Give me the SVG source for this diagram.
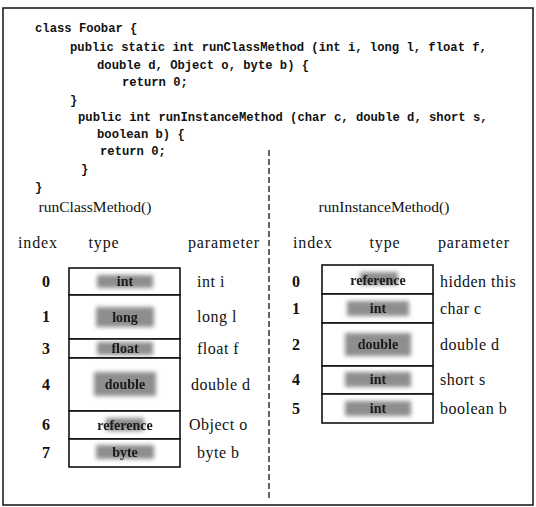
<svg xmlns="http://www.w3.org/2000/svg" width="536" height="507" viewBox="0 0 536 507">
<defs>
<filter id="blur" x="-30%" y="-50%" width="160%" height="200%"><feGaussianBlur stdDeviation="2.2"/></filter>
<filter id="soft" x="-10%" y="-30%" width="120%" height="160%"><feGaussianBlur stdDeviation="0.6"/></filter>
</defs>
<style>
.code{font-family:"Liberation Mono","Courier New",monospace;font-weight:bold;font-size:12.2px;fill:#111}
.ttl{font-family:"Liberation Serif","Times New Roman",serif;font-size:15.5px;fill:#111;text-anchor:middle}
.hdr{font-family:"Liberation Serif","Times New Roman",serif;font-size:16px;letter-spacing:0.9px;fill:#111;text-anchor:middle}
.lbl{font-family:"Liberation Serif","Times New Roman",serif;font-size:16px;letter-spacing:0.5px;fill:#111}
.num{font-family:"Liberation Serif","Times New Roman",serif;font-size:16px;font-weight:bold;fill:#111;text-anchor:middle}
.cell{fill:#fff;stroke:#111;stroke-width:1.6}
.blob{fill:#8e8e8e;filter:url(#blur)}
.typ{font-family:"Liberation Serif","Times New Roman",serif;font-size:14px;font-weight:bold;fill:#1a1a1a;text-anchor:middle;filter:url(#soft)}
.frame{fill:none;stroke:#111;stroke-width:1.5}
.div{stroke:#111;stroke-width:1.3;stroke-dasharray:6 3;fill:none}
</style>
<rect class="frame" x="3" y="8" width="530" height="497"/>
<g id="code">
<text class="code" x="35" y="32">class Foobar {</text>
<text class="code" x="70" y="51">public static int runClassMethod (int i, long l, float f,</text>
<text class="code" x="97" y="69">double d, Object o, byte b) {</text>
<text class="code" x="122" y="86">return 0;</text>
<text class="code" x="70" y="104">}</text>
<text class="code" x="78" y="121">public int runInstanceMethod (char c, double d, short s,</text>
<text class="code" x="97" y="138">boolean b) {</text>
<text class="code" x="100" y="155">return 0;</text>
<text class="code" x="81" y="173">}</text>
<text class="code" x="35" y="191">}</text>
</g>
<g id="connectors">
<line class="div" x1="269" y1="150" x2="269" y2="500"/>
</g>
<g id="left-header">
<text class="ttl" x="95" y="212">runClassMethod()</text>
<text class="hdr" x="38" y="248">index</text>
<text class="hdr" x="104" y="248">type</text>
<text class="hdr" x="224" y="248">parameter</text>
</g>
<g id="left-row-0">
<rect class="cell" x="69" y="268" width="111" height="27"/>
<rect class="blob" x="97" y="275" width="56" height="13"/>
<text class="typ" x="125" y="286">int</text>
<text class="num" x="46" y="287">0</text>
<text class="lbl" x="197" y="287">int i</text>
</g>
<g id="left-row-1">
<rect class="cell" x="69" y="295" width="111" height="44"/>
<rect class="blob" x="96" y="307" width="58" height="20"/>
<text class="typ" x="125" y="322">long</text>
<text class="num" x="46" y="322">1</text>
<text class="lbl" x="197" y="322">long l</text>
</g>
<g id="left-row-3">
<rect class="cell" x="69" y="339" width="111" height="19"/>
<rect class="blob" x="97" y="342" width="56" height="13"/>
<text class="typ" x="125" y="353">float</text>
<text class="num" x="46" y="354">3</text>
<text class="lbl" x="197" y="354">float f</text>
</g>
<g id="left-row-4">
<rect class="cell" x="69" y="358" width="111" height="53"/>
<rect class="blob" x="94" y="372" width="62" height="24"/>
<text class="typ" x="125" y="389">double</text>
<text class="num" x="46" y="390">4</text>
<text class="lbl" x="191" y="390">double d</text>
</g>
<g id="left-row-6">
<rect class="cell" x="69" y="411" width="111" height="28"/>
<rect class="blob" x="106" y="418" width="38" height="13"/>
<text class="typ" x="125" y="430">reference</text>
<text class="num" x="46" y="430">6</text>
<text class="lbl" x="189" y="430">Object o</text>
</g>
<g id="left-row-7">
<rect class="cell" x="69" y="439" width="111" height="28"/>
<rect class="blob" x="96" y="445" width="58" height="14"/>
<text class="typ" x="125" y="457">byte</text>
<text class="num" x="46" y="458">7</text>
<text class="lbl" x="197" y="458">byte b</text>
</g>
<g id="right-header">
<text class="ttl" x="384" y="212">runInstanceMethod()</text>
<text class="hdr" x="313" y="248">index</text>
<text class="hdr" x="385" y="248">type</text>
<text class="hdr" x="474" y="248">parameter</text>
</g>
<g id="right-row-0">
<rect class="cell" x="322" y="265" width="111" height="29"/>
<rect class="blob" x="360" y="272" width="38" height="13"/>
<text class="typ" x="378" y="285">reference</text>
<text class="num" x="296" y="287">0</text>
<text class="lbl" x="440" y="287">hidden this</text>
</g>
<g id="right-row-1">
<rect class="cell" x="322" y="294" width="111" height="29"/>
<rect class="blob" x="347" y="301" width="62" height="15"/>
<text class="typ" x="378" y="313">int</text>
<text class="num" x="296" y="314">1</text>
<text class="lbl" x="440" y="314">char c</text>
</g>
<g id="right-row-2">
<rect class="cell" x="322" y="323" width="111" height="43"/>
<rect class="blob" x="345" y="333" width="66" height="23"/>
<text class="typ" x="378" y="349">double</text>
<text class="num" x="296" y="350">2</text>
<text class="lbl" x="440" y="350">double d</text>
</g>
<g id="right-row-4">
<rect class="cell" x="322" y="366" width="111" height="28"/>
<rect class="blob" x="345" y="372" width="66" height="15"/>
<text class="typ" x="378" y="384">int</text>
<text class="num" x="296" y="385">4</text>
<text class="lbl" x="440" y="385">short s</text>
</g>
<g id="right-row-5">
<rect class="cell" x="322" y="394" width="111" height="29"/>
<rect class="blob" x="345" y="401" width="66" height="15"/>
<text class="typ" x="378" y="413">int</text>
<text class="num" x="296" y="414">5</text>
<text class="lbl" x="440" y="414">boolean b</text>
</g>
</svg>
